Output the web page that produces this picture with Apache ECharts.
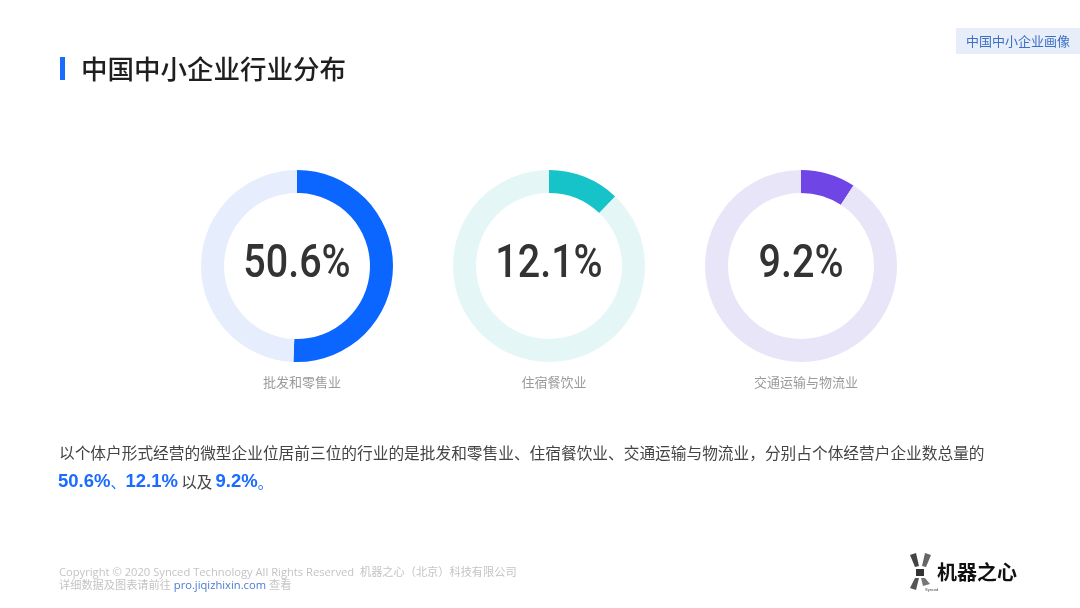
<!DOCTYPE html>
<html>
<head>
<meta charset="utf-8">
<script src="https://cdn.jsdelivr.net/npm/echarts@6/dist/echarts.min.js"></script>
<style>
  html, body { margin: 0; padding: 0; background: #fff; }
  #main { width: 1080px; height: 608px; }
</style>
</head>
<body>
<div id="main"></div>
<script>
// 数据
const industries = ['批发和零售业', '住宿餐饮业', '交通运输与物流业']
const shares = [50.6, 12.1, 9.2]
const mainColors = ['#0a66ff', '#16c3c8', '#6f45e6']
const trackColors = ['#e6edfc', '#e4f6f5', '#e8e5f8']

const CJK = '"Noto Sans CJK SC", "Noto Sans", sans-serif'

const centerX = [297, 549, 801]
const centerY = 266

let chart = echarts.init(document.getElementById('main'))

let series = industries.map((name, i) => ({
    type: 'pie',
    name: name,
    center: [centerX[i], centerY],
    radius: [73, 96],
    startAngle: 90,
    clockwise: true,
    silent: true,
    label: { show: false },
    labelLine: { show: false },
    data: [
        { value: shares[i], name: name, itemStyle: { color: mainColors[i] } },
        { value: +(100 - shares[i]).toFixed(1), name: 'rest', itemStyle: { color: trackColors[i] } }
    ]
}))

let titles = industries.map((name, i) => ({
    text: name,
    left: centerX[i],
    top: 371,
    textAlign: 'center',
    textStyle: { color: '#9a9a9a', fontSize: 13, fontWeight: 'normal', fontFamily: CJK }
}))

// 中心百分比（窄体数字）
let centerTexts = shares.map((v, i) => ({
    type: 'text',
    x: centerX[i],
    y: centerY - 1,
    scaleX: 0.84,
    style: {
        text: v + '%',
        fill: '#333',
        font: '500 47px Roboto, "Noto Sans", sans-serif',
        textAlign: 'center',
        textVerticalAlign: 'middle'
    }
}))

let option = {
    backgroundColor: '#fff',
    animation: false,
    title: titles,
    series: series,
    graphic: centerTexts.concat([
        // 标题
        { type: 'rect', shape: { x: 60, y: 57, width: 5, height: 23 }, style: { fill: '#1a6bff' } },
        {
            type: 'text', x: 81, y: 69,
            style: { text: '中国中小企业行业分布', fill: '#1f1f1f', font: `500 26.5px ${CJK}`, textVerticalAlign: 'middle' }
        },
        // 右上标签
        { type: 'rect', shape: { x: 956, y: 28, width: 124, height: 26 }, style: { fill: '#e7eef9' } },
        {
            type: 'text', x: 1018, y: 41,
            style: { text: '中国中小企业画像', fill: '#3d6fc6', font: `13px ${CJK}`, textAlign: 'center', textVerticalAlign: 'middle' }
        },
        // 说明文字
        {
            type: 'text', x: 59, y: 453,
            style: {
                text: '以个体户形式经营的微型企业位居前三位的行业的是批发和零售业、住宿餐饮业、交通运输与物流业，分别占个体经营户企业数总量的',
                fill: '#444', font: `15.7px ${CJK}`, textVerticalAlign: 'middle'
            }
        },
        {
            type: 'text', x: 58, y: 482,
            style: {
                text: '{b|' + shares[0] + '%}{s|、}{b|' + shares[1] + '%} {n|以及} {b|' + shares[2] + '%}{s|。}',
                textVerticalAlign: 'middle',
                rich: {
                    b: { fill: '#1a6bff', font: `bold 18.5px "Liberation Sans", Arial, sans-serif` },
                    s: { fill: '#1a6bff', font: `15px ${CJK}` },
                    n: { fill: '#444', font: `15.5px ${CJK}` }
                }
            }
        },
        // 页脚
        {
            type: 'text', x: 59, y: 573,
            style: {
                text: 'Copyright © 2020 Synced Technology All Rights Reserved  机器之心（北京）科技有限公司',
                fill: '#c4c4c4', font: `11.2px "Open Sans", ${CJK}`, textVerticalAlign: 'middle'
            }
        },
        {
            type: 'text', x: 59, y: 586,
            style: {
                text: '详细数据及图表请前往 {l|pro.jiqizhixin.com} 查看',
                fill: '#c4c4c4', font: `11.2px "Open Sans", ${CJK}`, textVerticalAlign: 'middle',
                rich: { l: { fill: '#4a7bd0', font: `11.2px "Open Sans", sans-serif` } }
            }
        },
        // logo
        { type: 'polygon', shape: { points: [[910, 555], [916, 553], [919, 566], [915, 567]] }, style: { fill: '#444' } },
        { type: 'polygon', shape: { points: [[925, 553], [931, 555], [926, 567], [922, 566]] }, style: { fill: '#666' } },
        { type: 'rect', shape: { x: 916, y: 569, width: 8, height: 7 }, style: { fill: '#333' } },
        { type: 'polygon', shape: { points: [[915, 578], [919, 578], [916, 590], [910, 588]] }, style: { fill: '#555' } },
        { type: 'polygon', shape: { points: [[921, 578], [925, 578], [930, 584], [923, 586]] }, style: { fill: '#777' } },
        {
            type: 'text', x: 925, y: 590,
            style: { text: 'Synced', fill: '#444', font: '4px sans-serif', textVerticalAlign: 'middle' }
        },
        {
            type: 'text', x: 937, y: 572,
            style: { text: '机器之心', fill: '#111', font: `bold 20px ${CJK}`, textVerticalAlign: 'middle' }
        }
    ])
}

chart.setOption(option)
</script>
</body>
</html>
